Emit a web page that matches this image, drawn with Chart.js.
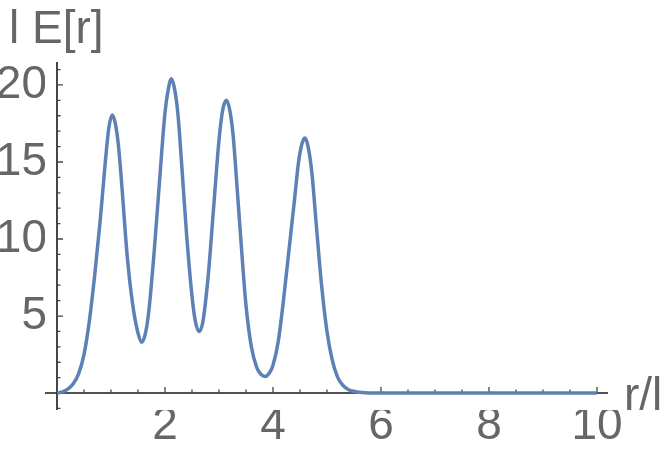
<!DOCTYPE html>
<html>
<head>
<meta charset="utf-8">
<script src="https://cdn.jsdelivr.net/npm/chart.js@4"></script>
<style>
  html, body { margin: 0; padding: 0; background: #fff; }
</style>
</head>
<body>
<canvas id="grafico" width="664" height="451"></canvas>
<script>
// r/l (x) e l E[r] (y)
const rVals = [0, 0.1, 0.2, 0.3, 0.4, 0.5, 0.6, 0.7, 0.8, 0.9, 0.96, 1.02, 1.08, 1.14, 1.2, 1.3, 1.4, 1.5, 1.57,
  1.64, 1.7, 1.8, 1.9, 2.0, 2.06, 2.12, 2.18, 2.24, 2.3, 2.4, 2.5, 2.56, 2.63,
  2.7, 2.8, 2.9, 3.0, 3.07, 3.14, 3.2, 3.26, 3.33, 3.4, 3.5, 3.6, 3.7, 3.78, 3.86,
  3.95, 4.0, 4.1, 4.2, 4.3, 4.4, 4.47, 4.53, 4.59, 4.65, 4.72, 4.8, 4.9, 5.0, 5.1, 5.2, 5.3, 5.4, 5.5, 5.6, 5.7, 5.8,
  6, 7, 8, 9, 10];
const eVals = [0, 0.07, 0.25, 0.6, 1.25, 2.5, 4.7, 7.7, 11.2, 15.2, 17.2, 18.05, 17.5, 16.0, 13.5, 8.9, 5.8, 3.9, 3.3,
  3.9, 5.3, 9.2, 13.8, 18.2, 19.7, 20.4, 19.7, 18.1, 15.3, 10.3, 6.3, 4.7, 4.0,
  4.6, 7.6, 12.0, 16.4, 18.4, 19.0, 18.35, 16.8, 13.6, 10.2, 5.7, 3.0, 1.65, 1.2, 1.08,
  1.4, 1.8, 3.4, 6.2, 9.4, 12.6, 14.9, 16.1, 16.55, 16.0, 14.3, 11.0, 7.0, 4.0, 2.1, 1.0, 0.48, 0.22, 0.1, 0.05, 0.02, 0.01,
  0, 0, 0, 0, 0];

const xTicks = [2, 4, 6, 8, 10];
const yTicks = [5, 10, 15, 20];
const xLabel = "r/l";
const yLabel = "l E[r]";

const FONTE = 'Liberation Sans, Arial, sans-serif';
const CINZA = '#666666';

/* eixos estilo Mathematica: passam pela origem, ticks para dentro */
const eixos = {
  id: 'eixos',
  beforeDatasetsDraw(chart) {
    const { ctx, scales: { x, y } } = chart;
    const x0 = x.getPixelForValue(0);
    const y0 = y.getPixelForValue(0);

    ctx.save();
    ctx.strokeStyle = '#1a1a1a';
    ctx.lineWidth = 1.6;
    ctx.beginPath();
    ctx.moveTo(x.left, y0); ctx.lineTo(x.right, y0);
    ctx.moveTo(x0, y.top); ctx.lineTo(x0, y.bottom);
    ctx.stroke();

    ctx.strokeStyle = '#444';
    ctx.lineWidth = 1.3;
    ctx.beginPath();
    for (let i = 1; i <= 20; i++) {
      const v = i / 2;
      const px = x.getPixelForValue(v);
      const len = i % 4 === 0 ? 6 : 3.5;
      ctx.moveTo(px, y0); ctx.lineTo(px, y0 - len);
    }
    for (let v = -1; v <= 21; v++) {
      if (v === 0) continue;
      const py = y.getPixelForValue(v);
      const len = v % 5 === 0 ? 6 : 3.5;
      ctx.moveTo(x0, py); ctx.lineTo(x0 + len, py);
    }
    ctx.stroke();
    ctx.restore();
  },
  afterDraw(chart) {
    const { ctx, scales: { x, y } } = chart;
    const y0 = y.getPixelForValue(0);
    ctx.save();
    ctx.font = '46px ' + FONTE;
    ctx.fillStyle = CINZA;
    ctx.textBaseline = 'alphabetic';
    ctx.textAlign = 'left';
    ctx.fillText(yLabel, 9, y.top - 19);
    ctx.fillText(xLabel, x.right + 16, y0 + 17);
    ctx.restore();
  }
};

new Chart(document.getElementById('grafico'), {
  type: 'line',
  data: {
    datasets: [{
      data: rVals.map((r, i) => ({ x: r, y: eVals[i] })),
      borderColor: '#5e81b5',
      borderWidth: 3.5,
      pointRadius: 0,
      cubicInterpolationMode: 'monotone',
      fill: false
    }]
  },
  options: {
    responsive: false,
    animation: false,
    devicePixelRatio: 1,
    layout: { padding: { top: 62, right: 56, left: 0, bottom: 0 } },
    plugins: { legend: { display: false }, tooltip: { enabled: false } },
    scales: {
      x: {
        type: 'linear',
        min: -0.222,
        max: 10.204,
        afterFit: s => { s.height = 41; },
        afterBuildTicks: s => { s.ticks = xTicks.map(v => ({ value: v })); },
        grid: { display: false, drawTicks: false },
        border: { display: false },
        ticks: {
          font: { family: FONTE, size: 46 },
          color: CINZA,
          padding: -11,
          maxRotation: 0,
          autoSkip: false
        }
      },
      y: {
        type: 'linear',
        min: -1.1,
        max: 21.49,
        afterFit: s => { s.width = 45; },
        afterBuildTicks: s => { s.ticks = yTicks.map(v => ({ value: v })); },
        grid: { display: false, drawTicks: false },
        border: { display: false },
        ticks: {
          font: { family: FONTE, size: 46 },
          color: CINZA,
          padding: -2,
          autoSkip: false
        }
      }
    }
  },
  plugins: [eixos]
});
</script>
</body>
</html>
